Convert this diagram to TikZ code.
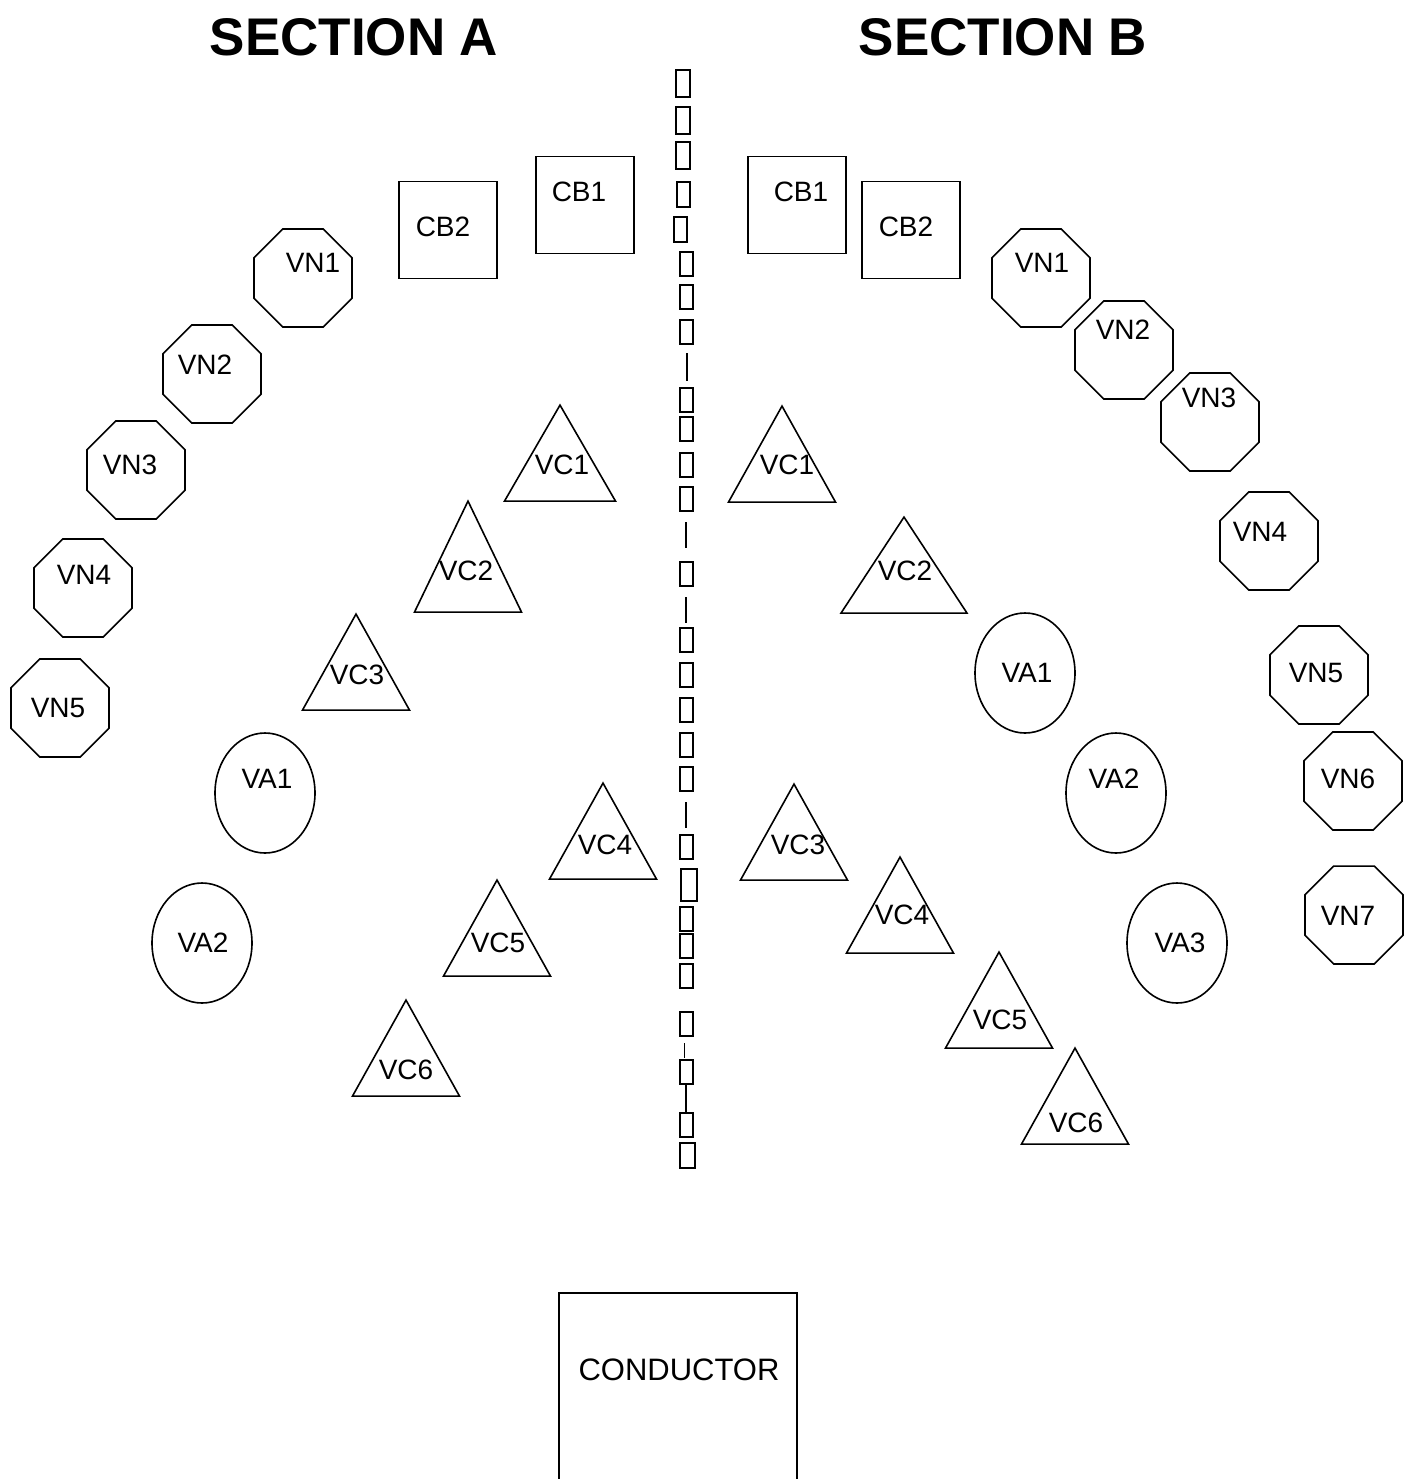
\documentclass[tikz,border=0pt]{standalone}
\usepackage{fontspec}
\setmainfont{Liberation Sans}
\usetikzlibrary{shapes.geometric}

\begin{document}
\begin{tikzpicture}[x=0.5pt,y=-0.5pt,line width=0.8pt,
  seat label/.style={inner sep=0pt,font=\fontsize{14}{16}\selectfont},
  title/.style={inner sep=0pt,font=\fontsize{26.5}{32}\selectfont\bfseries},
  cb node/.style={draw,rectangle,minimum width=49pt,minimum height=48.5pt,inner sep=0pt},
  vn node/.style={draw,regular polygon,regular polygon sides=8,minimum size=53pt,inner sep=0pt},
  va node/.style={draw,ellipse,minimum width=50pt,minimum height=60pt,inner sep=0pt},
  vc node/.style={draw,isosceles triangle,isosceles triangle stretches,shape border rotate=90,
    minimum width=53.5pt,minimum height=48pt,inner sep=0pt,anchor=apex},
  glyph/.style={draw,line width=0.7pt}]

  \useasboundingbox (0,0) rectangle (1416,1479);

  % titles
  \node[title] (secA) at (354,37) {SECTION A};
  \node[title] (secB) at (1003,37) {SECTION B};

  % section A
  \node[cb node] (aCB1) at (585,205) {};
  \node[seat label] (aCB1t) at (579,192) {CB1};
  \node[cb node] (aCB2) at (448,230) {};
  \node[seat label] (aCB2t) at (443,227) {CB2};
  \node[vn node] (aVN1) at (303,278) {};
  \node[seat label] (aVN1t) at (313,263) {VN1};
  \node[vn node] (aVN2) at (212,374) {};
  \node[seat label] (aVN2t) at (205,365) {VN2};
  \node[vn node] (aVN3) at (136,470) {};
  \node[seat label] (aVN3t) at (130,465) {VN3};
  \node[vn node] (aVN4) at (83,588) {};
  \node[seat label] (aVN4t) at (84,575) {VN4};
  \node[vn node] (aVN5) at (60,708) {};
  \node[seat label] (aVN5t) at (58,708) {VN5};
  \node[vc node,minimum width=55.5pt] (aVC1) at (560,403) {};
  \node[seat label] (aVC1t) at (562,465) {VC1};
  \node[vc node,minimum height=55.5pt] (aVC2) at (468,499) {};
  \node[seat label] (aVC2t) at (466,571) {VC2};
  \node[vc node] (aVC3) at (356,612) {};
  \node[seat label] (aVC3t) at (357,675) {VC3};
  \node[vc node] (aVC4) at (603,781) {};
  \node[seat label] (aVC4t) at (605,845) {VC4};
  \node[vc node] (aVC5) at (497,878) {};
  \node[seat label] (aVC5t) at (498,943) {VC5};
  \node[vc node] (aVC6) at (406,998) {};
  \node[seat label] (aVC6t) at (406,1070) {VC6};
  \node[va node] (aVA1) at (265,793) {};
  \node[seat label] (aVA1t) at (267,779) {VA1};
  \node[va node] (aVA2) at (202,943) {};
  \node[seat label] (aVA2t) at (203,943) {VA2};

  % section B
  \node[cb node] (bCB1) at (797,205) {};
  \node[seat label] (bCB1t) at (801,192) {CB1};
  \node[cb node] (bCB2) at (911,230) {};
  \node[seat label] (bCB2t) at (906,227) {CB2};
  \node[vn node] (bVN1) at (1041,278) {};
  \node[seat label] (bVN1t) at (1042,263) {VN1};
  \node[vn node] (bVN2) at (1124,350) {};
  \node[seat label] (bVN2t) at (1123,330) {VN2};
  \node[vn node] (bVN3) at (1210,422) {};
  \node[seat label] (bVN3t) at (1209,398) {VN3};
  \node[vn node] (bVN4) at (1269,541) {};
  \node[seat label] (bVN4t) at (1260,532) {VN4};
  \node[vn node] (bVN5) at (1319,675) {};
  \node[seat label] (bVN5t) at (1316,673) {VN5};
  \node[vn node] (bVN6) at (1353,781) {};
  \node[seat label] (bVN6t) at (1348,779) {VN6};
  \node[vn node] (bVN7) at (1354,915) {};
  \node[seat label] (bVN7t) at (1348,916) {VN7};
  \node[vc node] (bVC1) at (782,404) {};
  \node[seat label] (bVC1t) at (787,465) {VC1};
  \node[vc node,minimum width=63pt] (bVC2) at (904,515) {};
  \node[seat label] (bVC2t) at (905,571) {VC2};
  \node[vc node] (bVC3) at (794,782) {};
  \node[seat label] (bVC3t) at (798,845) {VC3};
  \node[vc node] (bVC4) at (900,855) {};
  \node[seat label] (bVC4t) at (902,915) {VC4};
  \node[vc node] (bVC5) at (999,950) {};
  \node[seat label] (bVC5t) at (1000,1020) {VC5};
  \node[vc node] (bVC6) at (1075,1046) {};
  \node[seat label] (bVC6t) at (1076,1123) {VC6};
  \node[va node] (bVA1) at (1025,673) {};
  \node[seat label] (bVA1t) at (1027,673) {VA1};
  \node[va node] (bVA2) at (1116,793) {};
  \node[seat label] (bVA2t) at (1114,779) {VA2};
  \node[va node] (bVA3) at (1177,943) {};
  \node[seat label] (bVA3t) at (1180,943) {VA3};

  % divider
  \draw[glyph] (676,70) rectangle (690,97);
  \draw[glyph] (676,107) rectangle (690,134);
  \draw[glyph] (676,142) rectangle (690,169);
  \draw[glyph] (677,182) rectangle (690,207);
  \draw[glyph] (674,217) rectangle (687,242);
  \foreach \t in {252,285,320,388,417,453,487,562,628,663,698,733,767,835,907,934,964,1012,1060,1113}
    \draw[glyph] (680,\t) rectangle ++(13,24);
  \draw[glyph,line width=1pt] (681,869) rectangle (697,901);
  \draw[glyph] (680,1143) rectangle (695,1168);
  \draw[glyph] (687,353) -- (687,381);
  \draw[glyph] (686,522) -- (686,548);
  \draw[glyph] (686,597) -- (686,623);
  \draw[glyph] (686,802) -- (686,828);
  \draw[glyph,line width=0.4pt] (684,1043) -- (684,1058);
  \draw[glyph] (686,1085) -- (686,1113);

  % conductor
  \node[draw,rectangle,minimum width=119pt,minimum height=104pt,inner sep=0pt,anchor=north west] (cond) at (558,1292) {};
  \node[seat label,font=\fontsize{15.5}{18}\selectfont] (condt) at (679,1370) {CONDUCTOR};
\end{tikzpicture}
\end{document}
